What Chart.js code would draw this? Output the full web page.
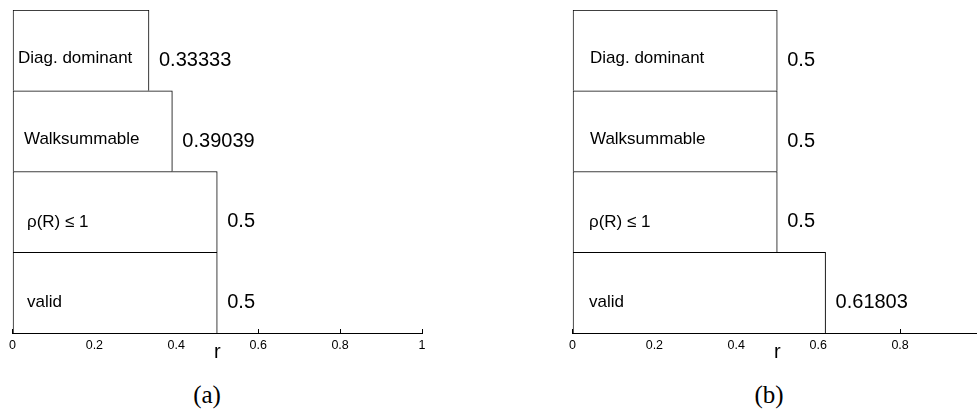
<!DOCTYPE html>
<html>
<head>
<meta charset="utf-8">
<script src="https://cdn.jsdelivr.net/npm/chart.js@4"></script>
<style>
  html, body { margin: 0; padding: 0; background: #fff; overflow: hidden; }
  body { width: 977px; height: 410px; position: relative; }
  .panel { position: absolute; top: 0; width: 440px; height: 370px; }
  .caption {
    position: absolute; top: 380px; width: 80px; text-align: center;
    font-family: "Liberation Serif", "DejaVu Serif", serif; font-size: 25px; line-height: 30px; color: #000;
  }
</style>
</head>
<body>
<div class="panel" style="left:0"><canvas id="chartA"></canvas></div>
<div class="panel" style="left:560px"><canvas id="chartB"></canvas></div>
<div class="caption" style="left:167px">(a)</div>
<div class="caption" style="left:729px">(b)</div>
<script>
// categories, top to bottom
const categories = ['Diag. dominant', 'Walksummable', 'ρ(R) ≤ 1', 'valid'];

// r values for each panel
const valuesA = [0.33333, 0.39039, 0.5, 0.5];
const valuesB = [0.5, 0.5, 0.5, 0.61803];

// printed value labels
const valueTextA = ['0.33333', '0.39039', '0.5', '0.5'];
const valueTextB = ['0.5', '0.5', '0.5', '0.61803'];

const xTicks = [0, 0.2, 0.4, 0.6, 0.8, 1];

// inset of the category label inside each bar (px)
const insetA = [5, 11, 14, 14];
const insetB = [17, 17, 16, 16];

const barLabels = {
    id: 'barLabels',
    afterDatasetsDraw(chart, args, opts) {
        const ctx = chart.ctx;
        const meta = chart.getDatasetMeta(0);
        ctx.save();
        ctx.fillStyle = '#000';
        ctx.textBaseline = 'middle';
        meta.data.forEach((bar, i) => {
            ctx.textAlign = 'left';
            ctx.font = '17px "Liberation Sans", Arial, sans-serif';
            ctx.fillText(categories[i], bar.base + opts.inset[i], bar.y + (i < 2 ? 8 : 10));
            ctx.font = '20px "Liberation Sans", Arial, sans-serif';
            ctx.fillText(opts.values[i], bar.x + 10, bar.y + 10);
        });
        ctx.restore();
    }
};

function createPanel(id, values, valueText, inset) {
    const ctx = document.getElementById(id).getContext('2d');
    return new Chart(ctx, {
        type: 'bar',
        data: {
            labels: categories,
            datasets: [{
                data: values,
                backgroundColor: '#fff',
                borderColor: '#000',
                borderWidth: { top: 1, right: 1, bottom: 0, left: 1 },
                borderSkipped: false,
                categoryPercentage: 1,
                barPercentage: 1
            }]
        },
        plugins: [barLabels],
        options: {
            indexAxis: 'y',
            responsive: false,
            animation: false,
            layout: { padding: { left: 12, right: 18, top: 10, bottom: 0 } },
            plugins: {
                legend: { display: false },
                tooltip: { enabled: false },
                barLabels: { values: valueText, inset: inset }
            },
            scales: {
                y: { display: false },
                x: {
                    type: 'linear',
                    min: 0,
                    max: 1,
                    afterBuildTicks: scale => {
                        scale.ticks = xTicks.map(v => ({ value: v }));
                    },
                    afterFit: scale => { scale.height = 37; },
                    border: { display: true, color: '#000', width: 1 },
                    grid: {
                        drawOnChartArea: false,
                        drawTicks: true,
                        tickLength: -4,
                        color: '#000'
                    },
                    ticks: {
                        padding: 9,
                        color: '#000',
                        maxRotation: 0,
                        font: { family: '"Liberation Sans", Arial, sans-serif', size: 12.5 },
                        callback: v => String(v)
                    },
                    title: {
                        display: true,
                        text: 'r',
                        color: '#000',
                        padding: { top: 0, bottom: 6 },
                        font: { family: '"Liberation Sans Narrow", "Liberation Sans", sans-serif', size: 20, lineHeight: 1.2 }
                    }
                }
            }
        }
    });
}

document.getElementById('chartA').width = 440;
document.getElementById('chartA').height = 370;
document.getElementById('chartB').width = 440;
document.getElementById('chartB').height = 370;

createPanel('chartA', valuesA, valueTextA, insetA);
createPanel('chartB', valuesB, valueTextB, insetB);
</script>
</body>
</html>
